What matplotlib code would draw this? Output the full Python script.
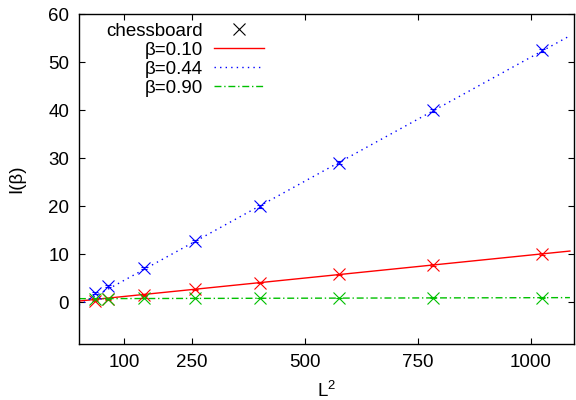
import numpy as np
import matplotlib
matplotlib.use("Agg")
import matplotlib.pyplot as plt

plt.rcParams['font.family'] = ['Liberation Sans', 'DejaVu Sans']
plt.rcParams['font.size'] = 13.5
plt.rcParams['mathtext.fontset'] = 'custom'
plt.rcParams['mathtext.rm'] = 'Liberation Sans'

# system sizes, x = L^2
L2 = [36, 64, 144, 256, 400, 576, 784, 1024]

# measured I(beta) for each beta (chessboard)
I_010 = [0.3, 0.6, 1.5, 2.7, 4.1, 5.8, 7.8, 10.0]
I_044 = [2.0, 3.4, 7.1, 12.7, 20.0, 29.1, 40.0, 52.5]
I_090 = [0.7, 0.75, 0.85, 0.85, 0.9, 0.9, 0.95, 0.95]
err_010 = [0.1, 0.1, 0.1, 0.15, 0.15, 0.15, 0.2, 0.2]
err_044 = [0.2, 0.2, 0.2, 0.2, 0.25, 0.25, 0.3, 0.3]
err_090 = [0.05, 0.05, 0.05, 0.05, 0.05, 0.05, 0.05, 0.05]

# linear fits a + b*L^2
fit_010 = (0.25, 0.0096)
fit_044 = (-0.6, 0.0517)
fit_090 = (0.75, 0.0002)

xticks = [100, 250, 500, 750, 1000]
yticks = [0, 10, 20, 30, 40, 50, 60]

fig = plt.figure(figsize=(5.76, 4.0), dpi=100)
ax = fig.add_axes([0.137, 0.14, 0.8595, 0.824])

red, blue, green = "#ff0000", "#0000ff", "#00c000"

xs = np.linspace(0, 1086, 200)
ax.plot(xs, fit_010[0] + fit_010[1] * xs, color=red, lw=1.0, ls='-')
ax.plot(xs, fit_044[0] + fit_044[1] * xs, color=blue, lw=1.0, ls=(0, (1, 3)))
ax.plot(xs, fit_090[0] + fit_090[1] * xs, color=green, lw=1.0, ls=(0, (5, 2, 1, 2)))

for y, e, c in [(I_010, err_010, red), (I_044, err_044, blue), (I_090, err_090, green)]:
    ax.errorbar(L2, y, yerr=e, fmt='x', color=c, ms=8, mew=0.8,
                elinewidth=0.8, capsize=2, capthick=0.8)

# legend proxies
ax.plot([], [], 'x', color='k', ms=8, mew=0.8, label='chessboard')
ax.plot([], [], color=red, lw=1.0, ls='-', label='β=0.10')
ax.plot([], [], color=blue, lw=1.0, ls=(0, (1, 3)), label='β=0.44')
ax.plot([], [], color=green, lw=1.0, ls=(0, (5, 2, 1, 2)), label='β=0.90')
handles, labels = ax.get_legend_handles_labels()
leg = ax.legend(handles, labels, loc='upper right', bbox_to_anchor=(0.401, 1.015),
                frameon=False, markerfirst=False, handlelength=2.67,
                handletextpad=0.59, labelspacing=0.1, borderpad=0.2)

ax.set_xlim(0, 1095)
ax.set_ylim(-8.7, 60)
ax.set_xticks(xticks)
ax.set_yticks(yticks)
ax.tick_params(direction='in', length=4, width=0.8, top=True, right=True,
               pad=7)
for s in ax.spines.values():
    s.set_linewidth(1.0)

ax.set_xlabel(r'L$^{\rm 2}$', labelpad=7)
ax.set_ylabel('I(β)', labelpad=16.5)

fig.savefig("out.png", dpi=100)
